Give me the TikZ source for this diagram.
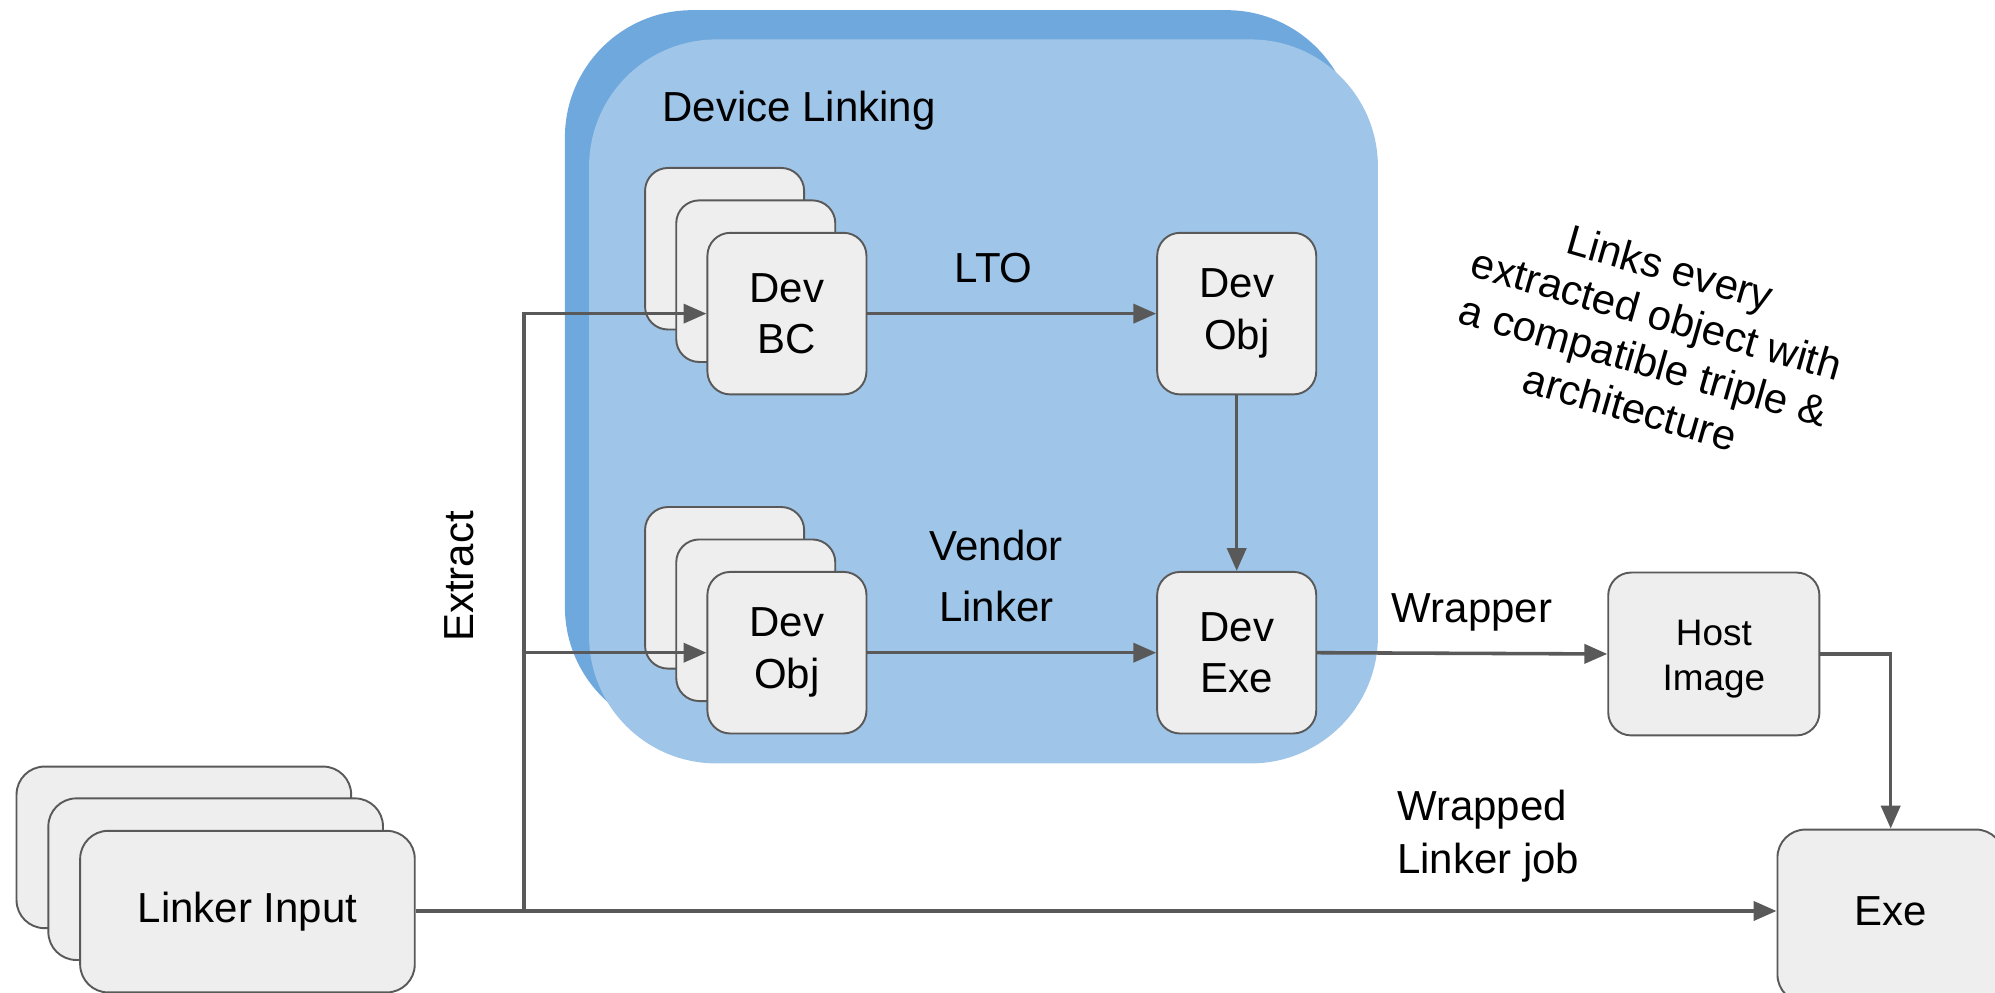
\documentclass[tikz,border=0pt]{standalone}
\usepackage{fontspec}
\setmainfont{Liberation Sans}
\usetikzlibrary{arrows.meta}
\definecolor{darkblue}{HTML}{6FA8DC}
\definecolor{lightblue}{HTML}{9FC5E8}
\definecolor{boxfill}{HTML}{EEEEEE}
\definecolor{linegray}{HTML}{595959}
\begin{document}
\begin{tikzpicture}[x=1pt,y=1pt,
  box/.style={draw=linegray, fill=boxfill, line width=1.5pt, rounded corners=18pt, minimum width=125pt, minimum height=127pt, align=center, font=\fontsize{33}{40.6}\selectfont, inner sep=0pt},
  bigbox/.style={box, rounded corners=22pt},
  conn/.style={draw=linegray, line width=2.8pt, -{Triangle[length=18pt,width=15pt]}},
  lbl/.style={font=\fontsize{33}{40}\selectfont, align=center, inner sep=0pt}
]
\useasboundingbox (0,0) rectangle (1568,780);
\clip (0,0) rectangle (1568,780);
% container
\fill[darkblue, rounded corners=100pt] (444,203) rectangle (1064,772);
\fill[lightblue, rounded corners=100pt] (463,180) rectangle (1083,749);
\node[lbl] (devlink) at (628,693) {Device Linking};
% Dev BC stack
\node[box] (bc3) at (569.5,584.5) {};
\node[box] (bc2) at (594,559) {};
\node[box] (bc1) at (618.5,533.5) {Dev\\BC};
\node[box] (dobj) at (972,533.5) {Dev\\Obj};
% Dev Obj stack
\node[box] (ob3) at (569.5,318) {};
\node[box] (ob2) at (594,292.5) {};
\node[box] (ob1) at (618.5,267) {Dev\\Obj};
\node[box] (dexe) at (972,267) {Dev\\Exe};
% Host image
\node[box, minimum width=166pt, minimum height=128pt] (host) at (1347,266) {};
\node[lbl, font=\fontsize{29}{36}\selectfont] (hosttxt) at (1347,262) {Host\\Image};
% Exe
\node[bigbox, minimum width=178pt, minimum height=136pt] (exe) at (1486,60) {};
\node[lbl] (exetxt) at (1486,64) {Exe};
% Linker Input stack
\node[bigbox, minimum width=263pt, minimum height=127pt] (li3) at (144.5,114) {};
\node[bigbox, minimum width=263pt, minimum height=127pt] (li2) at (169.5,89) {};
\node[bigbox, minimum width=263pt, minimum height=127pt] (li1) at (194.5,63.5) {Linker Input};
% labels
\node[lbl] (lto) at (781,569) {LTO};
\node[lbl, font=\fontsize{33}{48}\selectfont] (vendor) at (783,327) {Vendor\\Linker};
\node[lbl] (wrapper) at (1157,299) {Wrapper};
\node[lbl, align=left, anchor=west, font=\fontsize{33}{42}\selectfont] (wrapped) at (1098,123) {Wrapped\\Linker job};
\node[lbl, rotate=90] (extract) at (361,327) {Extract};
\node[lbl, rotate=-16, font=\fontsize{33}{38}\selectfont] (note) at (1297,515) {Links every\\extracted object with\\a compatible triple \&\\architecture};
% connectors
\coordinate (jb) at (412,64);
\draw[conn] (li1.east |- jb) -- (exe.west |- jb);
\draw[conn] (jb) |- (bc1.west);
\draw[conn] (jb) |- (ob1.west);
\draw[conn] (bc1.east) -- (dobj.west);
\draw[conn] (dobj.south) -- (dexe.north);
\draw[conn] (ob1.east) -- (dexe.west);
\draw[conn] (dexe.east) -- (host.west);
\draw[conn] (host.east) -| (exe.north);
\end{tikzpicture}
\end{document}
